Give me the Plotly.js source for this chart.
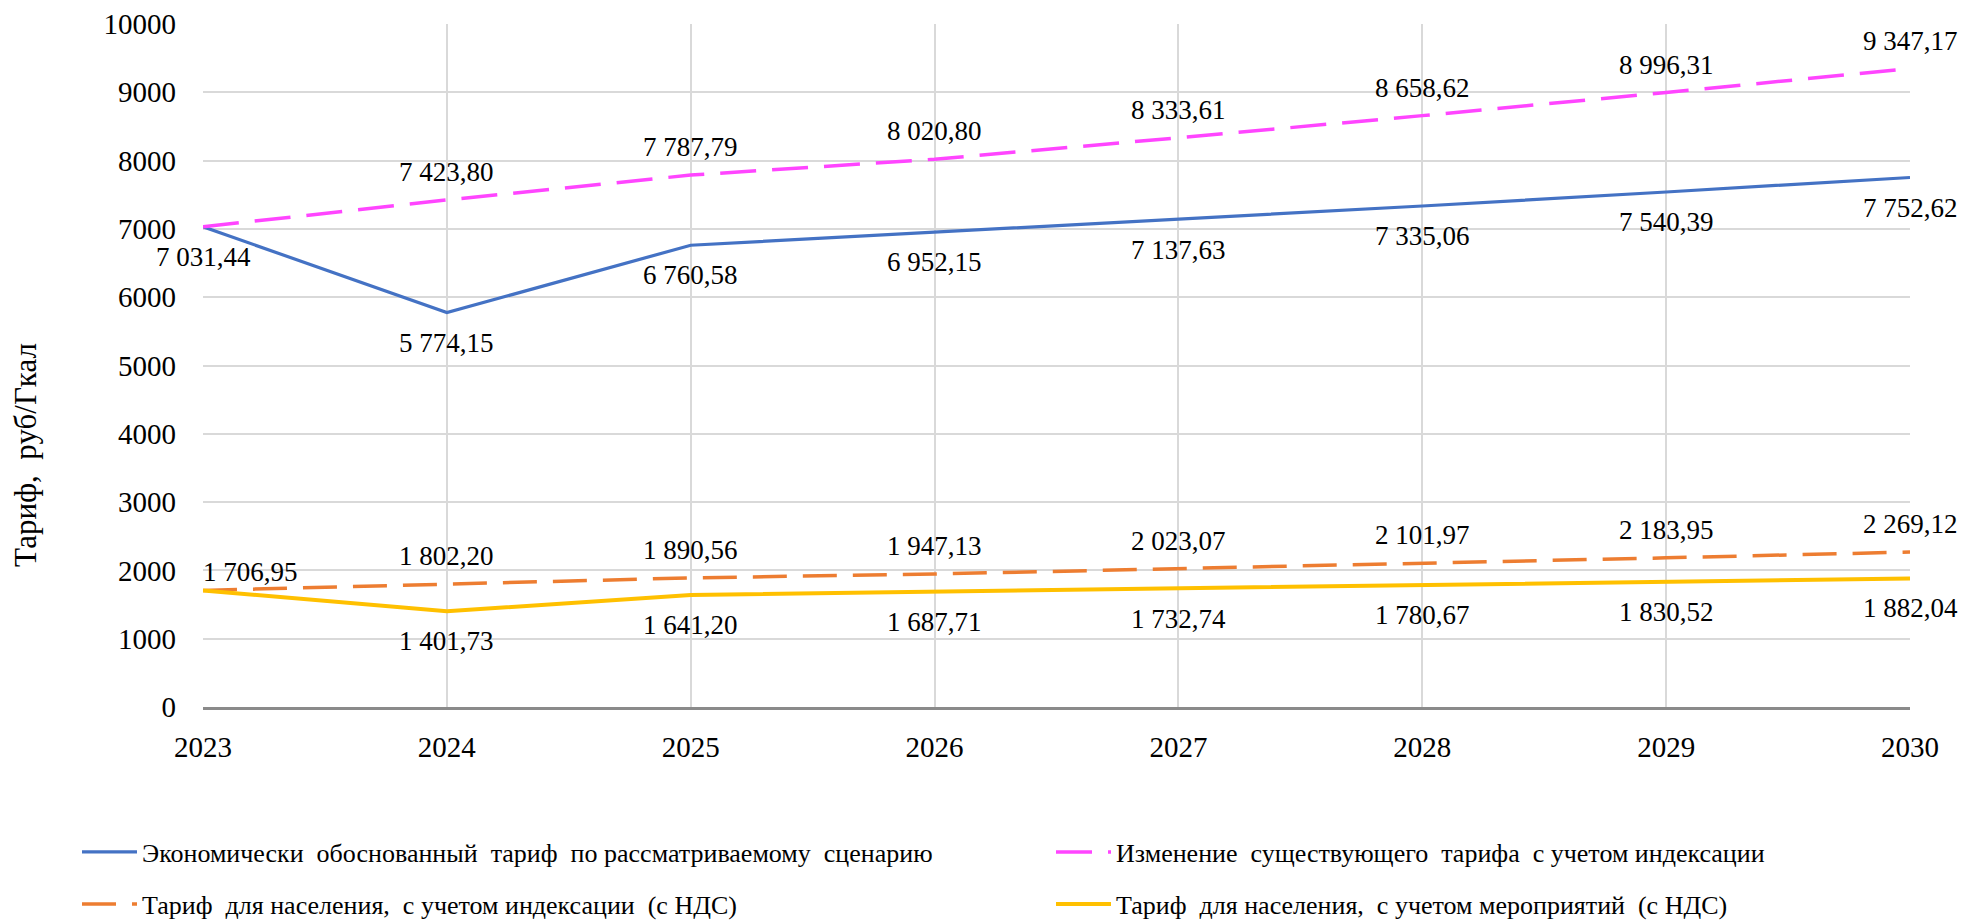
<!DOCTYPE html>
<html>
<head>
<meta charset="utf-8">
<script src="https://cdn.plot.ly/plotly-3.0.1.min.js"></script>
<style>
  html, body { margin: 0; padding: 0; background: #fff; }
  #chart { width: 1968px; height: 921px; }
  #err { position: absolute; left: 300px; top: 300px; font: 20px monospace; color: red; white-space: pre; }
</style>
</head>
<body>
<div id="chart"></div>
<div id="err"></div>
<script>
window.onerror = function (m, s, l, c, e) { document.getElementById('err').textContent += 'ERR: ' + m + ' @' + l + '\n'; };
// ---- data ----
const years = ['2023', '2024', '2025', '2026', '2027', '2028', '2029', '2030'];
const econTariff = [7031.44, 5774.15, 6760.58, 6952.15, 7137.63, 7335.06, 7540.39, 7752.62];
const existingIndexed = [7031.44, 7423.80, 7787.79, 8020.80, 8333.61, 8658.62, 8996.31, 9347.17];
const popIndexedVAT = [1706.95, 1802.20, 1890.56, 1947.13, 2023.07, 2101.97, 2183.95, 2269.12];
const popMeasuresVAT = [1706.95, 1401.73, 1641.20, 1687.71, 1732.74, 1780.67, 1830.52, 1882.04];
const seriesNames = [
  'Экономически\u00a0\u00a0обоснованный\u00a0\u00a0тариф\u00a0\u00a0по рассматриваемому\u00a0\u00a0сценарию',
  'Изменение\u00a0\u00a0существующего\u00a0\u00a0тарифа\u00a0\u00a0с учетом индексации',
  'Тариф\u00a0\u00a0для населения,\u00a0\u00a0с учетом индексации\u00a0\u00a0(с НДС)',
  'Тариф\u00a0\u00a0для населения,\u00a0\u00a0с учетом мероприятий\u00a0\u00a0(с НДС)'
];
const yTicks = [0, 1000, 2000, 3000, 4000, 5000, 6000, 7000, 8000, 9000, 10000];
const yTitle = 'Тариф,\u00a0\u00a0руб/Гкал';

// ---- styles ----
const FONT = '"Liberation Serif", "Times New Roman", serif';
const W = 1968, H = 921;
const M = { l: 203, r: 58, t: 24, b: 214 };
const series = [
  { y: econTariff,      name: seriesNames[0], color: '#4472C4', width: 3.2, dash: 'solid',     side: 'below', skipFirst: false, firstTopRight: false, legend: 'legend'  },
  { y: existingIndexed, name: seriesNames[1], color: '#FF45FF', width: 3.5, dash: '36px,16px', side: 'above', skipFirst: true,  firstTopRight: false, legend: 'legend2' },
  { y: popIndexedVAT,   name: seriesNames[2], color: '#ED7D31', width: 3.5, dash: '34px,16px', side: 'above', skipFirst: false, firstTopRight: true,  legend: 'legend3' },
  { y: popMeasuresVAT,  name: seriesNames[3], color: '#FFC000', width: 4,   dash: 'solid',     side: 'below', skipFirst: true,  firstTopRight: false, legend: 'legend4' }
];

function fmt(v) {
  const parts = v.toFixed(2).split('.');
  return parts[0].replace(/\B(?=(\d{3})+(?!\d))/g, '\u00a0') + ',' + parts[1];
}

const traces = series.map(s => ({
  type: 'scatter',
  mode: 'lines',
  x: years,
  y: s.y,
  name: s.name,
  legend: s.legend,
  line: { color: s.color, width: s.width, dash: s.dash },
  hoverinfo: 'skip'
}));

const annotations = [];
series.forEach(s => {
  s.y.forEach((v, i) => {
    if (i === 0 && s.skipFirst) return;
    const a = {
      xref: 'x', yref: 'y', x: i, y: v,
      text: fmt(v), showarrow: false,
      xanchor: 'center', yanchor: 'middle',
      yshift: s.side === 'above' ? 28 : -30,
      font: { family: FONT, size: 27, color: '#000000' }
    };
    if (i === 0 && s.firstTopRight) { a.xanchor = 'left'; a.xshift = -2; a.yshift = 18; }
    annotations.push(a);
  });
});

const plotW = W - M.l - M.r, plotH = H - M.t - M.b;
annotations.push({
  xref: 'paper', yref: 'paper', x: (25 - M.l) / plotW, y: (H - M.b - 455) / plotH,
  text: yTitle, showarrow: false, textangle: -90,
  xanchor: 'center', yanchor: 'middle',
  font: { family: FONT, size: 31, color: '#000000' }
});

function legendAt(px, py) {
  return {
    xref: 'container', yref: 'container',
    x: px / W, y: 1 - py / H,
    xanchor: 'left', yanchor: 'middle',
    orientation: 'h', bgcolor: 'rgba(0,0,0,0)', borderwidth: 0,
    itemwidth: 55,
    font: { family: FONT, size: 26, color: '#000000' }
  };
}

const layout = {
  width: W, height: H,
  margin: M,
  paper_bgcolor: '#ffffff', plot_bgcolor: '#ffffff',
  font: { family: FONT, color: '#000000' },
  showlegend: true,
  legend: legendAt(77, 852),
  legend2: legendAt(1051, 852),
  legend3: legendAt(77, 904),
  legend4: legendAt(1051, 904),
  xaxis: {
    type: 'category', range: [0, 7], automargin: false,
    showgrid: true, gridcolor: '#d9d9d9', gridwidth: 1.5,
    showline: true, linecolor: '#8a8a8a', linewidth: 2.5,
    ticks: '', ticklabelstandoff: 12,
    tickfont: { family: FONT, size: 29, color: '#000000' },
    zeroline: false, fixedrange: true
  },
  yaxis: {
    range: [0, 10000], tickvals: yTicks, ticktext: yTicks.map(String), automargin: false,
    showgrid: true, gridcolor: '#d9d9d9', gridwidth: 1.5,
    zeroline: false, showline: false,
    ticks: '', ticklabelstandoff: 26,
    tickfont: { family: FONT, size: 29, color: '#000000' },
    fixedrange: true
  },
  annotations: annotations,
  hovermode: false
};

Plotly.newPlot('chart', traces, layout, { displayModeBar: false })
  .catch(e => { document.getElementById('err').textContent += 'PROMISE: ' + e + '\n'; });
</script>
</body>
</html>
